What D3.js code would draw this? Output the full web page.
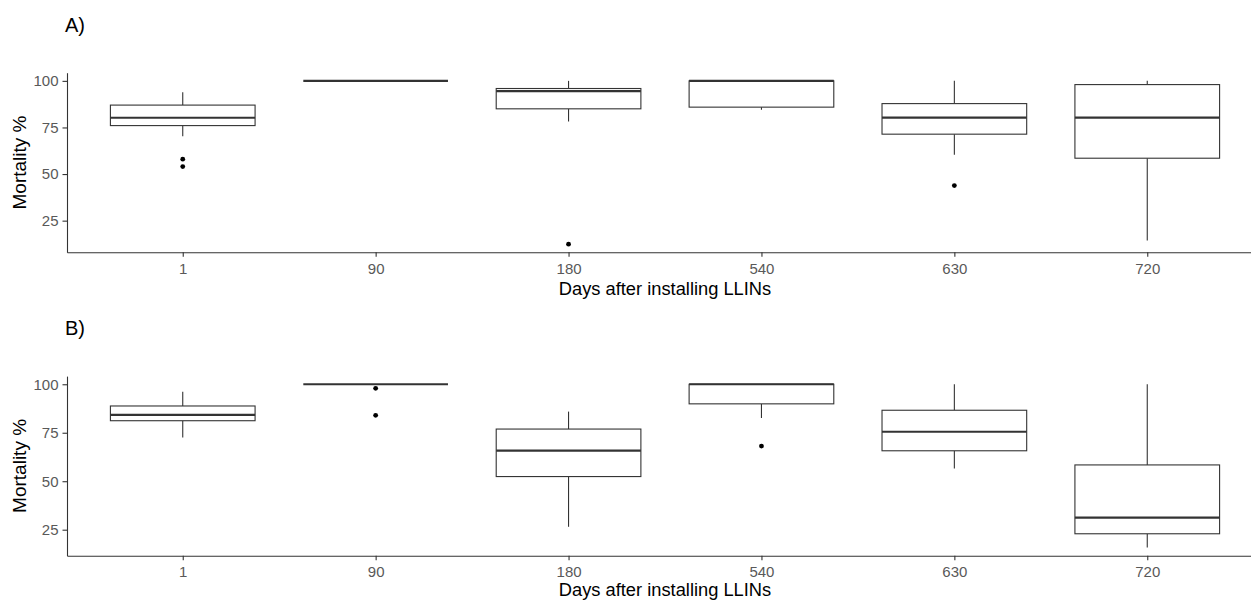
<!DOCTYPE html>
<html>
<head>
<meta charset="utf-8">
<script src="https://cdn.jsdelivr.net/npm/d3@7"></script>
<style>
  body { margin: 0; background: #fff; }
  svg { display: block; font-family: "Liberation Sans", Arial, sans-serif; }
</style>
</head>
<body>
<svg id="chart" width="1251" height="601"></svg>
<script>
// days after installing LLINs
var days = ["1", "90", "180", "540", "630", "720"];
var yTicks = [25, 50, 75, 100];

// panel A
var lowA = [70.3, 100, 78.2, 84.5, 60.3, 14.3];
var q1A = [76.0, 100, 85.0, 85.9, 71.4, 58.5];
var medA = [80.2, 100, 94.5, 100, 80.3, 80.3];
var q3A = [87.0, 100, 95.9, 100, 87.8, 98.0];
var highA = [93.9, 100, 100, 100, 100, 100];
var outA = [[58.0, 54.0], [], [12.4], [], [43.8], []];

// panel B
var lowB = [72.6, 100, 26.5, 82.6, 56.5, 15.8];
var q1B = [81.2, 100, 52.4, 89.9, 65.7, 22.9];
var medB = [84.2, 100, 65.8, 100, 75.5, 31.2];
var q3B = [88.8, 100, 76.9, 100, 86.6, 58.4];
var highB = [96.2, 100, 85.9, 100, 100, 100];
var outB = [[], [97.9, 84.0], [], [68.1], [], []];

var svg = d3.select("#chart");
var W = 1251, H = 601;

function makeStats(low, q1, med, q3, high, outs) {
  return days.map(function(d, i) {
    return {day: d, low: low[i], q1: q1[i], med: med[i], q3: q3[i], high: high[i], outs: outs[i]};
  });
}

function drawPanel(stats, label, top) {
  var left = 67, right = 1263, h = 179.6;
  var g = svg.append("g").attr("transform", "translate(0," + top + ")");

  var all = [];
  stats.forEach(function(s) { all.push(s.low, s.high); all = all.concat(s.outs); });
  var ext = d3.extent(all), pad = (ext[1] - ext[0]) * 0.05;

  var x = d3.scalePoint().domain(days).range([left, right]).padding(0.6);
  var y = d3.scaleLinear().domain([ext[0] - pad, ext[1] + pad]).range([h, 0]);
  var bw = x.step() * 0.75;

  var box = g.selectAll(".box").data(stats).enter().append("g").attr("class", "box");

  box.append("line")
    .attr("x1", function(d) { return x(d.day); })
    .attr("x2", function(d) { return x(d.day); })
    .attr("y1", function(d) { return y(d.high); })
    .attr("y2", function(d) { return y(d.q3); })
    .attr("stroke", "#333").attr("stroke-width", 1.1);
  box.append("line")
    .attr("x1", function(d) { return x(d.day); })
    .attr("x2", function(d) { return x(d.day); })
    .attr("y1", function(d) { return y(d.q1); })
    .attr("y2", function(d) { return y(d.low); })
    .attr("stroke", "#333").attr("stroke-width", 1.1);
  box.append("rect")
    .attr("x", function(d) { return x(d.day) - bw / 2; })
    .attr("width", bw)
    .attr("y", function(d) { return y(d.q3); })
    .attr("height", function(d) { return y(d.q1) - y(d.q3); })
    .attr("fill", "#fff").attr("stroke", "#333").attr("stroke-width", 1.1);
  box.append("line")
    .attr("x1", function(d) { return x(d.day) - bw / 2; })
    .attr("x2", function(d) { return x(d.day) + bw / 2; })
    .attr("y1", function(d) { return y(d.med); })
    .attr("y2", function(d) { return y(d.med); })
    .attr("stroke", "#333").attr("stroke-width", 2.2);
  box.selectAll("circle").data(function(d) {
      return d.outs.map(function(v) { return {day: d.day, v: v}; });
    }).enter().append("circle")
    .attr("cx", function(d) { return x(d.day); })
    .attr("cy", function(d) { return y(d.v); })
    .attr("r", 2.4).attr("fill", "#000");

  var yAxis = g.append("g").attr("transform", "translate(" + left + ",0)")
    .call(d3.axisLeft(y).tickValues(yTicks).tickSize(4.5).tickSizeOuter(0).tickPadding(4));
  var xAxis = g.append("g").attr("transform", "translate(0," + h + ")")
    .call(d3.axisBottom(x).tickSize(4.5).tickSizeOuter(0));

  [yAxis, xAxis].forEach(function(a) {
    a.attr("font-size", null).attr("font-family", null);
    a.select(".domain").attr("stroke", "#333").attr("stroke-width", 1.1);
    a.selectAll(".tick line").attr("stroke", "#333").attr("stroke-width", 1.1);
    a.selectAll(".tick text").attr("fill", "#595959")
      .style("font-size", "15px").style("font-family", "Liberation Sans, Arial, sans-serif");
  });
  xAxis.selectAll(".tick text").attr("y", 21.7).attr("dy", null);

  // keep the axis title inside the picture
  var titleY = Math.min(h + 43.2, H - top - 5);
  g.append("text")
    .attr("x", (left + right) / 2).attr("y", titleY)
    .attr("text-anchor", "middle").style("font-size", "18.3px").attr("fill", "#000")
    .text("Days after installing LLINs");

  g.append("text")
    .attr("transform", "translate(25.5," + (h / 2) + ") rotate(-90)")
    .attr("text-anchor", "middle").style("font-size", "19px").attr("fill", "#000")
    .text("Mortality %");

  g.append("text")
    .attr("x", 65).attr("y", -40.7)
    .style("font-size", "20px").attr("fill", "#000")
    .text(label);
}

drawPanel(makeStats(lowA, q1A, medA, q3A, highA, outA), "A)", 72.7);
drawPanel(makeStats(lowB, q1B, medB, q3B, highB, outB), "B)", 376.1);
</script>
</body>
</html>
